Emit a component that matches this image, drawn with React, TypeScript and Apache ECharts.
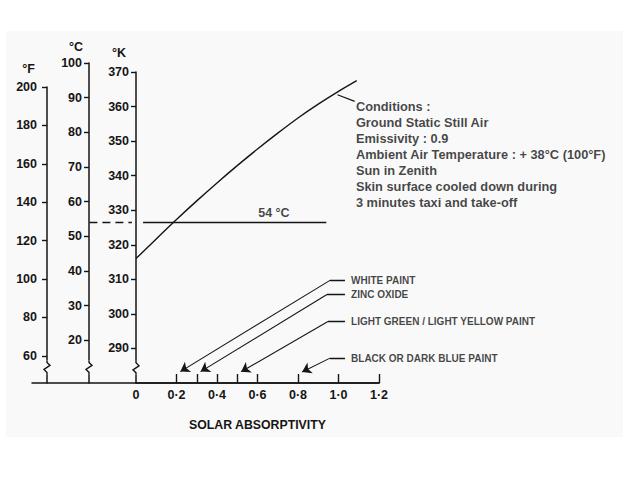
import React, { useEffect, useRef } from "react";
import * as echarts from "echarts";

// ---- data ----
const absorptivity = [0, 0.1, 0.2, 0.3, 0.4, 0.5, 0.6, 0.7, 0.8, 0.9, 1.0, 1.09];
const skinTempK = [316, 321.7, 327.3, 332.7, 337.9, 342.9, 347.7, 352.3, 356.7, 360.7, 364.4, 367.5];

const xLabelValues = [0, 0.2, 0.4, 0.6, 0.8, 1.0, 1.2];
const xTickValues = [0.2, 0.3, 0.4, 0.5, 0.6, 0.8, 1.0, 1.2];
const kelvinTicks = [290, 300, 310, 320, 330, 340, 350, 360, 370];
const celsiusTicks = [20, 30, 40, 50, 60, 70, 80, 90, 100];
const fahrenheitTicks = [60, 80, 100, 120, 140, 160, 180, 200];

const kelvinRange = [280, 370];
const celsiusRange = [7.7, 100];
const fahrenheitRange = [45.9, 200];
const mainXRange = [0, 1.2];
const baselineXRange = [-0.5136, 1.2];
const celsiusXRange = [-0.232, 1.2];
const fahrenheitXRange = [-0.4395, 1.2];

const limitC = 54;
const limitDashedX = [-0.23, -0.02];
const limitSolidX = [0.035, 0.94];
const limitLabelPos = [0.681, 56.7];

const paintNames = [
  "WHITE PAINT",
  "ZINC OXIDE",
  "LIGHT GREEN / LIGHT YELLOW PAINT",
  "BLACK OR DARK BLUE PAINT",
];
const paintAbsorptivity = [0.2, 0.3, 0.5, 0.8];
const paintLabelK = [309.7, 305.6, 297.8, 287.2];
const paintKneeX = [0.958, 0.943, 0.948, 0.958];
const paintArrowEndX = [0.219, 0.319, 0.519, 0.82];
const paintArrowEndK = [283.3, 283.3, 283.25, 283.2];
const paintStubEndX = 1.032;
const paintLabelX = 1.062;

const conditionLines = [
  "Conditions :",
  "Ground Static Still Air",
  "Emissivity : 0.9",
  "Ambient Air Temperature : + 38°C (100°F)",
  "Sun in Zenith",
  "Skin surface cooled down during",
  "3 minutes taxi and take-off",
];
const conditionsAnchor = [1.086, 346.1];
const conditionsPointer = [
  [0.995, 363.4],
  [1.08, 361.5],
];

const kelvinBreak = 284.4;
const celsiusBreak = 12.2;
const fahrenheitBreak = 54;

// ---- styling ----
const FONT = '"Liberation Sans", Arial, Helvetica, sans-serif';
const INK = "#151515";
const BG = "#f9f9f9";

const labelStyle = {
  color: INK,
  fontFamily: FONT,
  fontWeight: "bold" as const,
  fontSize: 12.5,
};

function zigzag(params: any, api: any) {
  const p = api.coord([api.value(0), api.value(1)]);
  const x = p[0];
  const y = p[1];
  return {
    type: "group",
    children: [
      {
        type: "rect",
        shape: { x: x - 5, y: y - 7, width: 10, height: 14 },
        style: { fill: BG },
      },
      {
        type: "polyline",
        shape: {
          points: [
            [x, y - 7],
            [x, y - 5],
            [x + 3, y - 2],
            [x - 3, y + 2],
            [x, y + 5],
            [x, y + 7],
          ],
        },
        style: { stroke: INK, lineWidth: 1.4, fill: "none" },
      },
    ],
  };
}

function yAxisDef(
  gridIndex: number,
  range: number[],
  ticks: number[],
  name: string,
  nameGap: number,
  namePad: number,
  margin: number
) {
  return {
    gridIndex,
    type: "value",
    position: "left",
    min: range[0],
    max: range[1],
    name,
    nameLocation: "end",
    nameGap,
    nameTextStyle: { ...labelStyle, align: "right", padding: [0, namePad, 0, 0] },
    axisLine: { show: true, onZero: false, lineStyle: { color: INK, width: 1.5 } },
    axisTick: { show: true, length: 5, customValues: ticks, lineStyle: { color: INK, width: 1.4 } },
    axisLabel: { ...labelStyle, customValues: ticks, margin },
    splitLine: { show: false },
  };
}

export default function App() {
  const ref = useRef<HTMLDivElement>(null);

  useEffect(() => {
    if (!ref.current) return;
    const chart = echarts.init(ref.current, undefined, { renderer: "svg" });

    const curve = absorptivity.map((a, i) => [a, skinTempK[i]]);

    const option: any = {
      animation: false,
      backgroundColor: "#ffffff",
      graphic: [
        {
          type: "rect",
          z: -100,
          silent: true,
          shape: { x: 6, y: 31, width: 617, height: 406 },
          style: { fill: BG },
        },
      ],
      grid: [
        { left: 136, top: 72, right: 248, bottom: 106 },
        { left: 89, top: 63, right: 248, bottom: 106 },
        { left: 47, top: 87, right: 248, bottom: 106 },
        { left: 32, top: 72, right: 248, bottom: 106 },
      ],
      xAxis: [
        {
          gridIndex: 0,
          type: "value",
          min: mainXRange[0],
          max: mainXRange[1],
          name: "SOLAR ABSORPTIVITY",
          nameLocation: "middle",
          nameGap: 36,
          nameTextStyle: { ...labelStyle, fontSize: 12.3 },
          axisLine: { show: true, onZero: false, lineStyle: { color: INK, width: 1.5 } },
          axisTick: {
            show: true,
            inside: true,
            length: 9,
            customValues: xTickValues,
            lineStyle: { color: INK, width: 1.4 },
          },
          axisLabel: {
            ...labelStyle,
            customValues: xLabelValues,
            margin: 5,
            formatter: (v: number) => (v === 0 ? "0" : v.toFixed(1).replace(".", "·")),
          },
          splitLine: { show: false },
        },
        { gridIndex: 1, type: "value", min: celsiusXRange[0], max: celsiusXRange[1], show: false },
        { gridIndex: 2, type: "value", min: fahrenheitXRange[0], max: fahrenheitXRange[1], show: false },
        {
          gridIndex: 3,
          type: "value",
          min: baselineXRange[0],
          max: baselineXRange[1],
          axisLine: { show: true, onZero: false, lineStyle: { color: INK, width: 1.5 } },
          axisTick: { show: false },
          axisLabel: { show: false },
          splitLine: { show: false },
        },
      ],
      yAxis: [
        yAxisDef(0, kelvinRange, kelvinTicks, "°K", 13, 10, 7),
        yAxisDef(1, celsiusRange, celsiusTicks, "°C", 10, 6, 7),
        yAxisDef(2, fahrenheitRange, fahrenheitTicks, "°F", 12, 12, 10),
        { gridIndex: 3, type: "value", min: kelvinRange[0], max: kelvinRange[1], show: false },
      ],
      series: [
        {
          type: "line",
          xAxisIndex: 0,
          yAxisIndex: 0,
          data: curve,
          smooth: 0.3,
          showSymbol: false,
          silent: true,
          lineStyle: { color: INK, width: 1.4 },
        },
        {
          type: "line",
          xAxisIndex: 1,
          yAxisIndex: 1,
          data: limitDashedX.map((x) => [x, limitC]),
          showSymbol: false,
          silent: true,
          lineStyle: { color: INK, width: 1.4, type: [8, 5] },
        },
        {
          type: "line",
          xAxisIndex: 1,
          yAxisIndex: 1,
          data: limitSolidX.map((x) => [x, limitC]),
          showSymbol: false,
          silent: true,
          lineStyle: { color: INK, width: 1.4 },
        },
        {
          type: "scatter",
          xAxisIndex: 1,
          yAxisIndex: 1,
          symbolSize: 0,
          silent: true,
          data: [limitLabelPos],
          label: {
            show: true,
            position: "inside",
            formatter: `${limitC} °C`,
            ...labelStyle,
          },
        },
        {
          type: "lines",
          coordinateSystem: "cartesian2d",
          xAxisIndex: 0,
          yAxisIndex: 0,
          silent: true,
          symbol: ["none", "arrow"],
          symbolSize: 9,
          lineStyle: { color: INK, width: 1.1, opacity: 1 },
          data: paintNames.map((n, i) => ({
            name: n,
            coords: [
              [paintKneeX[i], paintLabelK[i]],
              [paintArrowEndX[i], paintArrowEndK[i]],
            ],
          })),
        },
        {
          type: "lines",
          coordinateSystem: "cartesian2d",
          xAxisIndex: 0,
          yAxisIndex: 0,
          silent: true,
          symbol: ["none", "none"],
          lineStyle: { color: INK, width: 1.3, opacity: 1 },
          data: paintNames.map((n, i) => ({
            name: n,
            coords: [
              [paintKneeX[i], paintLabelK[i]],
              [paintStubEndX, paintLabelK[i]],
            ],
          })),
        },
        {
          type: "scatter",
          xAxisIndex: 0,
          yAxisIndex: 0,
          symbolSize: 0,
          silent: true,
          data: paintNames.map((n, i) => ({ name: n, value: [paintLabelX, paintLabelK[i], paintAbsorptivity[i]] })),
          label: {
            show: true,
            position: "right",
            distance: 0,
            formatter: (p: any) => p.name,
            ...labelStyle,
            fontSize: 10,
          },
        },
        {
          type: "lines",
          coordinateSystem: "cartesian2d",
          xAxisIndex: 0,
          yAxisIndex: 0,
          silent: true,
          symbol: ["none", "none"],
          lineStyle: { color: INK, width: 1.2, opacity: 1 },
          data: [{ coords: conditionsPointer }],
        },
        {
          type: "scatter",
          xAxisIndex: 0,
          yAxisIndex: 0,
          symbolSize: 0,
          silent: true,
          data: [conditionsAnchor],
          label: {
            show: true,
            position: "right",
            distance: 0,
            align: "left",
            verticalAlign: "middle",
            formatter: conditionLines.join("\n"),
            ...labelStyle,
            fontSize: 12.8,
            lineHeight: 16,
          },
        },
        {
          type: "custom",
          xAxisIndex: 0,
          yAxisIndex: 0,
          clip: false,
          silent: true,
          data: [[mainXRange[0], kelvinBreak]],
          renderItem: zigzag,
        },
        {
          type: "custom",
          xAxisIndex: 1,
          yAxisIndex: 1,
          clip: false,
          silent: true,
          data: [[celsiusXRange[0], celsiusBreak]],
          renderItem: zigzag,
        },
        {
          type: "custom",
          xAxisIndex: 2,
          yAxisIndex: 2,
          clip: false,
          silent: true,
          data: [[fahrenheitXRange[0], fahrenheitBreak]],
          renderItem: zigzag,
        },
      ],
    };

    chart.setOption(option);
    return () => chart.dispose();
  }, []);

  return (
    <div
      ref={ref}
      style={{ position: "fixed", left: 0, top: 0, width: 627, height: 489 }}
    />
  );
}
